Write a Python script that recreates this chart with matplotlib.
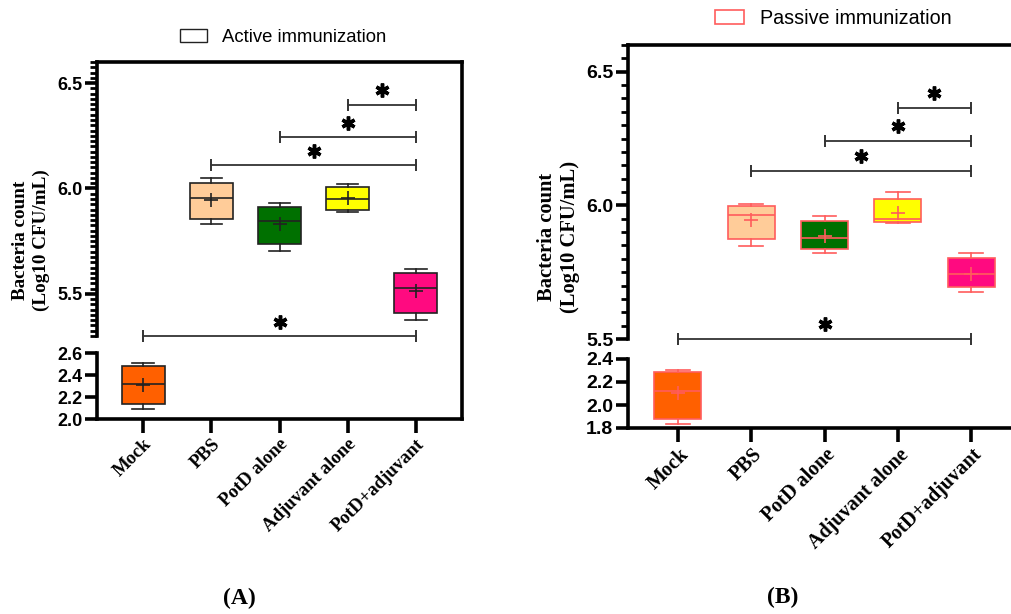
import numpy as np
import matplotlib
matplotlib.use("Agg")
from matplotlib import pyplot as plt
from matplotlib.ticker import MultipleLocator
from matplotlib.patches import Patch
import matplotlib.transforms as mtransforms

groups = ['Mock', 'PBS', 'PotD alone', 'Adjuvant alone', 'PotD+adjuvant']
box_colors = ['#ff6000', '#ffcc99', '#007000', '#ffff00', '#ff0a80']

# active immunization (panel A)
active_whislo = [2.095, 5.830, 5.703, 5.888, 5.376]
active_q1 = [2.132, 5.855, 5.738, 5.899, 5.411]
active_med = [2.320, 5.956, 5.847, 5.951, 5.526]
active_q3 = [2.486, 6.027, 5.911, 6.005, 5.597]
active_whishi = [2.510, 6.049, 5.932, 6.019, 5.619]
active_mean = [2.307, 5.946, 5.833, 5.953, 5.513]

# passive immunization (panel B)
passive_whislo = [1.835, 5.847, 5.822, 5.935, 5.677]
passive_q1 = [1.878, 5.873, 5.836, 5.938, 5.694]
passive_med = [2.126, 5.964, 5.877, 5.948, 5.744]
passive_q3 = [2.290, 5.997, 5.940, 6.022, 5.804]
passive_whishi = [2.305, 6.005, 5.960, 6.050, 5.822]
passive_mean = [2.103, 5.944, 5.885, 5.970, 5.744]

# significance brackets (group index pairs) and their heights
sig_pairs = [(3, 4), (2, 4), (1, 4), (0, 4)]
active_sig_y = [6.397, 6.243, 6.109, 5.300]
passive_sig_y = [6.366, 6.242, 6.130, 5.500]

W, H = 1011, 614
fig = plt.figure(figsize=(W / 100, H / 100), dpi=100)
SERIF = 'Liberation Serif'
SANS = 'Liberation Sans'


def fx(px):
    return px / W


def fy(py):
    return 1 - py / H


def panel(left, right, top, gap_top, gap_bot, bottom, up_lim, low_lim, minor_step,
          stats, edge, sig_y, star_off, lab_dx, fs_tick, fs_x):
    lo_ax = fig.add_axes([fx(left), fy(bottom), fx(right - left), (bottom - gap_bot) / H])
    up_ax = fig.add_axes([fx(left), fy(gap_top), fx(right - left), (gap_top - top) / H])
    frame = fig.add_axes([fx(left), fy(bottom), fx(right - left), (bottom - top) / H])
    frame.patch.set_visible(False)
    frame.set_xticks([])
    frame.set_yticks([])
    for s in ['left', 'bottom']:
        frame.spines[s].set_visible(False)
    for s in ['top', 'right']:
        frame.spines[s].set_linewidth(2.6)

    pos = np.arange(len(groups))
    xlim = (-0.68, 4.68)
    for ax in (up_ax, lo_ax):
        ax.patch.set_visible(False)
        bp = ax.bxp(stats, positions=pos, widths=0.64, capwidths=0.32,
                    showmeans=True, patch_artist=True,
                    boxprops=dict(edgecolor=edge, linewidth=1.2),
                    medianprops=dict(color=edge, linewidth=1.2),
                    whiskerprops=dict(color=edge, linewidth=1.2),
                    capprops=dict(color=edge, linewidth=1.2),
                    meanprops=dict(marker='+', markeredgecolor=edge,
                                   markersize=10, markeredgewidth=1.2))
        for b, c in zip(bp['boxes'], box_colors):
            b.set_facecolor(c)
        ax.set_xlim(*xlim)
        ax.spines['top'].set_visible(False)
        ax.spines['right'].set_visible(False)
        ax.spines['left'].set_linewidth(2.6)
        ax.tick_params(axis='y', which='major', length=9, width=2.6, pad=1.5)
        ax.tick_params(axis='y', which='minor', length=5, width=2.0)

    up_ax.set_ylim(*up_lim)
    up_ax.yaxis.set_major_locator(MultipleLocator(0.5))
    up_ax.yaxis.set_minor_locator(MultipleLocator(minor_step))
    up_ax.yaxis.set_major_formatter('{x:.1f}')
    up_ax.spines['bottom'].set_visible(False)
    up_ax.set_xticks([])

    lo_ax.set_ylim(*low_lim)
    lo_ax.yaxis.set_major_locator(MultipleLocator(0.2))
    lo_ax.yaxis.set_major_formatter('{x:.1f}')
    lo_ax.spines['bottom'].set_linewidth(2.6)
    lo_ax.set_xticks(pos)
    lo_ax.tick_params(axis='x', length=10, width=2.6, pad=2)
    off = mtransforms.ScaledTranslation(lab_dx / 100, 0, fig.dpi_scale_trans)
    lo_ax.set_xticklabels(groups, rotation=45, ha='right', va='top',
                          rotation_mode='anchor')
    for t in lo_ax.get_xticklabels():
        t.set_transform(t.get_transform() + off)
        t.set_fontfamily(SERIF)
        t.set_fontweight('bold')
        t.set_fontsize(fs_x)
    for t in up_ax.get_yticklabels() + lo_ax.get_yticklabels():
        t.set_fontfamily(SANS)
        t.set_fontweight('bold')
        t.set_fontsize(fs_tick)

    for (i, j), y in zip(sig_pairs, sig_y):
        up_ax.plot([pos[i], pos[j]], [y, y], color='#333333', lw=1.3, clip_on=False)
        up_ax.plot([pos[i], pos[j]], [y, y], ls='none', marker='|', ms=9,
                   mew=1.4, color='#333333', clip_on=False)
        up_ax.plot([(pos[i] + pos[j]) / 2], [y + star_off], ls='none',
                   marker=(6, 2, 0), ms=10, mew=2.5, color='black', clip_on=False)
    return up_ax, lo_ax


def make_stats(whislo, q1, med, q3, whishi, mean):
    return [dict(whislo=a, q1=b, med=c, q3=d, whishi=e, mean=f, fliers=[])
            for a, b, c, d, e, f in zip(whislo, q1, med, q3, whishi, mean)]


stats_a = make_stats(active_whislo, active_q1, active_med, active_q3,
                     active_whishi, active_mean)
stats_b = make_stats(passive_whislo, passive_q1, passive_med, passive_q3,
                     passive_whishi, passive_mean)

panel(97, 462, 62, 336, 353, 419, (5.3, 6.6), (2.0, 2.6), 0.025,
      stats_a, '#222222', active_sig_y, 0.068, 0, 13, 13.5)
panel(628, 1021, 45, 339, 359, 428, (5.5, 6.6), (1.8, 2.4), 0.05,
      stats_b, '#ff5c5c', passive_sig_y, 0.055, 1, 14, 14.5)

# y labels
fig.text(fx(31), fy(240), 'Bacteria count\n(Log10 CFU/mL)', rotation=90,
         ha='center', va='center', fontfamily=SERIF, fontweight='bold',
         fontsize=13.8, linespacing=1.25)
fig.text(fx(558), fy(237), 'Bacteria count\n(Log10 CFU/mL)', rotation=90,
         ha='center', va='center', fontfamily=SERIF, fontweight='bold',
         fontsize=14.8, linespacing=1.2)

# legends
fig.legend(handles=[Patch(facecolor='white', edgecolor='#222222', lw=1.0)],
           labels=['Active immunization'], loc='center',
           bbox_to_anchor=(fx(283), fy(37)), frameon=False,
           prop=dict(family=SANS, size=13.3), handlelength=1.5,
           handleheight=0.7, handletextpad=0.8)
fig.legend(handles=[Patch(facecolor='white', edgecolor='#ff5c5c', lw=1.2)],
           labels=['Passive immunization'], loc='center',
           bbox_to_anchor=(fx(833), fy(18)), frameon=False,
           prop=dict(family=SANS, size=14.2), handlelength=1.5,
           handleheight=0.7, handletextpad=0.8)

# panel labels
fig.text(fx(239), fy(598), '(A)', ha='center', va='center', fontfamily=SERIF,
         fontweight='bold', fontsize=17)
fig.text(fx(783), fy(597), '(B)', ha='center', va='center', fontfamily=SERIF,
         fontweight='bold', fontsize=17)

fig.savefig('out.png', dpi=100)
